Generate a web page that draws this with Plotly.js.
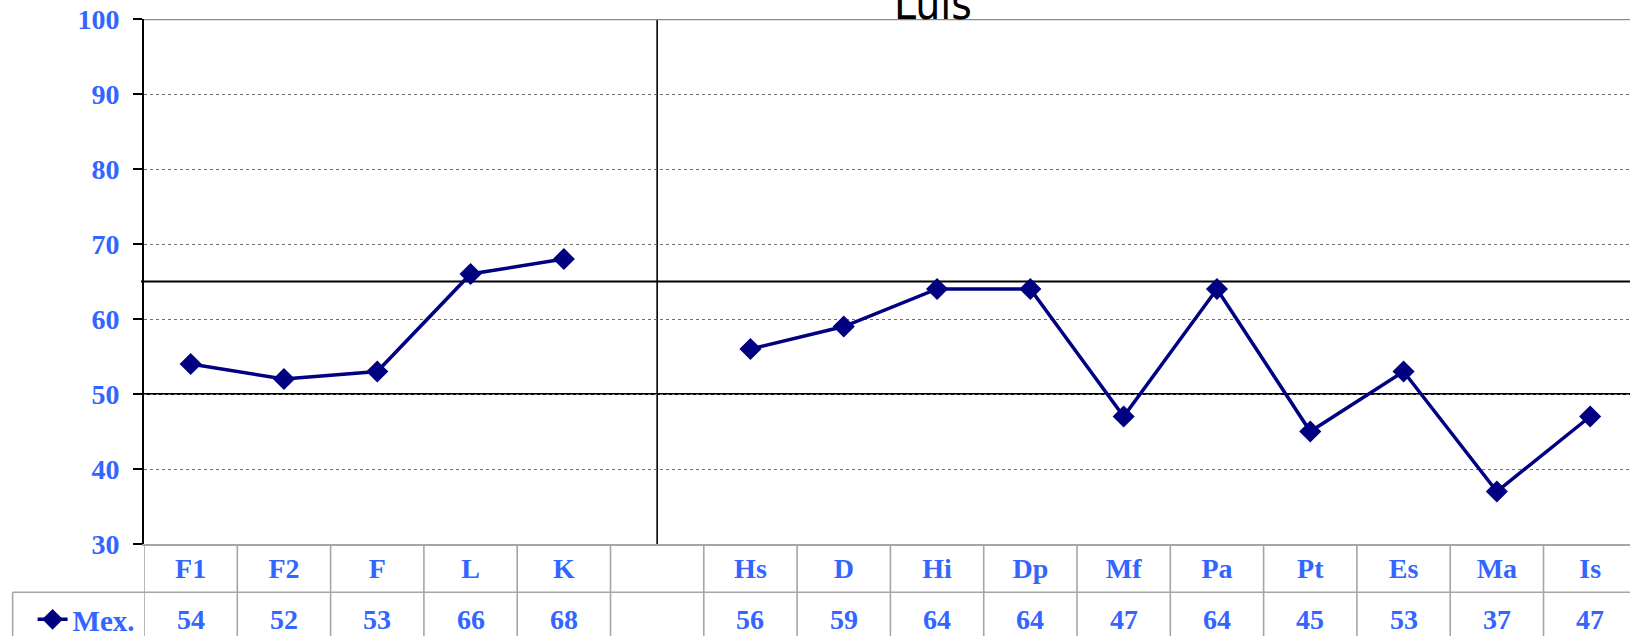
<!DOCTYPE html>
<html>
<head>
<meta charset="utf-8">
<script src="https://cdn.plot.ly/plotly-3.0.1.min.js"></script>
<style>
  body { margin: 0; padding: 0; background: #fff; }
  #myPlot { width: 1630px; height: 636px; }
</style>
</head>
<body>
<div id="myPlot"></div>
<script>
// chart data (blank category marks the gap between the two groups)
var categories = ["F1", "F2", "F", "L", "K", " ", "Hs", "D", "Hi", "Dp", "Mf", "Pa", "Pt", "Es", "Ma", "Is"];
var mexValues = [54, 52, 53, 66, 68, null, 56, 59, 64, 64, 47, 64, 45, 53, 37, 47];
var seriesName = "Mex.";
var refLines = [50, 65];
var yTicks = [30, 40, 50, 60, 70, 80, 90, 100];
var chartTitle = "Luis";

var blue = "#3366FF";
var navy = "#000080";
var tableGray = "#a6a6a6";
var serif = "Liberation Serif, Times New Roman, serif";

var xIdx = categories.map(function (c, i) { return i; });

// table geometry in paper units (plot is 526px tall, 1486px wide)
var rowSep = -0.092;
var tableBottom = -0.2;
var legendLeft = -0.0884;

var shapes = [];
refLines.forEach(function (v) {
  shapes.push({type: "line", xref: "paper", yref: "y", x0: -0.002, x1: 1, y0: v, y1: v,
    line: {color: "#000", width: 2}, layer: "between"});
});
var gapIdx = categories.indexOf(" ");
shapes.push({type: "line", xref: "x", yref: "paper", x0: gapIdx, x1: gapIdx, y0: 0, y1: 1,
  line: {color: "#000", width: 1.6}, layer: "between"});
shapes.push({type: "line", xref: "paper", yref: "y", x0: 0, x1: 1, y0: 100, y1: 100,
  line: {color: "#8c8c8c", width: 2.4}});
for (var i = 0; i <= categories.length; i++) {
  shapes.push({type: "line", xref: "x", yref: "paper", x0: i - 0.5, x1: i - 0.5, y0: 0, y1: tableBottom,
    line: {color: tableGray, width: 1.6}});
}
shapes.push({type: "line", xref: "paper", yref: "paper", x0: legendLeft, x1: 1, y0: rowSep, y1: rowSep,
  line: {color: tableGray, width: 1.6}});
shapes.push({type: "line", xref: "paper", yref: "paper", x0: legendLeft, x1: legendLeft, y0: rowSep, y1: tableBottom,
  line: {color: tableGray, width: 1.6}});

var annotations = [];
mexValues.forEach(function (v, i) {
  if (v === null) return;
  annotations.push({xref: "x", yref: "paper", x: i, y: -0.1445, text: String(v), showarrow: false,
    yanchor: "middle", font: {family: serif, size: 28, color: blue, weight: "bold"}});
});
annotations.push({xref: "paper", yref: "paper", x: 0.531, y: 1, yanchor: "bottom", yshift: -12,
  text: chartTitle, showarrow: false,
  font: {family: "DejaVu Sans Condensed, DejaVu Sans, sans-serif", size: 44, color: "#000"}});

var data = [{
  x: xIdx, y: mexValues, name: seriesName, type: "scatter", mode: "lines+markers",
  connectgaps: false,
  line: {color: navy, width: 3.5},
  marker: {symbol: "diamond", size: 17, color: navy}
}];

var layout = {
  width: 1630, height: 636,
  margin: {l: 144, r: 0, t: 18.5, b: 91.5},
  paper_bgcolor: "#fff", plot_bgcolor: "#fff",
  showlegend: true,
  legend: {xref: "container", yref: "container", x: 0.02, y: 0.026, xanchor: "left", yanchor: "middle",
    bgcolor: "rgba(0,0,0,0)", font: {family: serif, size: 29, color: blue, weight: "bold"}},
  xaxis: {range: [-0.5, 15.427], tickvals: xIdx, ticktext: categories, ticks: "",
    showgrid: false, zeroline: false, showline: true, linecolor: tableGray, linewidth: 2,
    ticklabelstandoff: -2, tickfont: {family: serif, size: 28, color: blue, weight: "bold"}},
  yaxis: {range: [30, 100], tickvals: yTicks, ticks: "outside", ticklen: 9, tickwidth: 2, tickcolor: "#000",
    showline: true, linecolor: "#000", linewidth: 2, zeroline: false,
    showgrid: true, gridcolor: "#707070", gridwidth: 1, griddash: "dot",
    ticklabelstandoff: 8, tickfont: {family: serif, size: 28, color: blue, weight: "bold"}},
  shapes: shapes,
  annotations: annotations
};

Plotly.newPlot("myPlot", data, layout, {staticPlot: true});
</script>
</body>
</html>
